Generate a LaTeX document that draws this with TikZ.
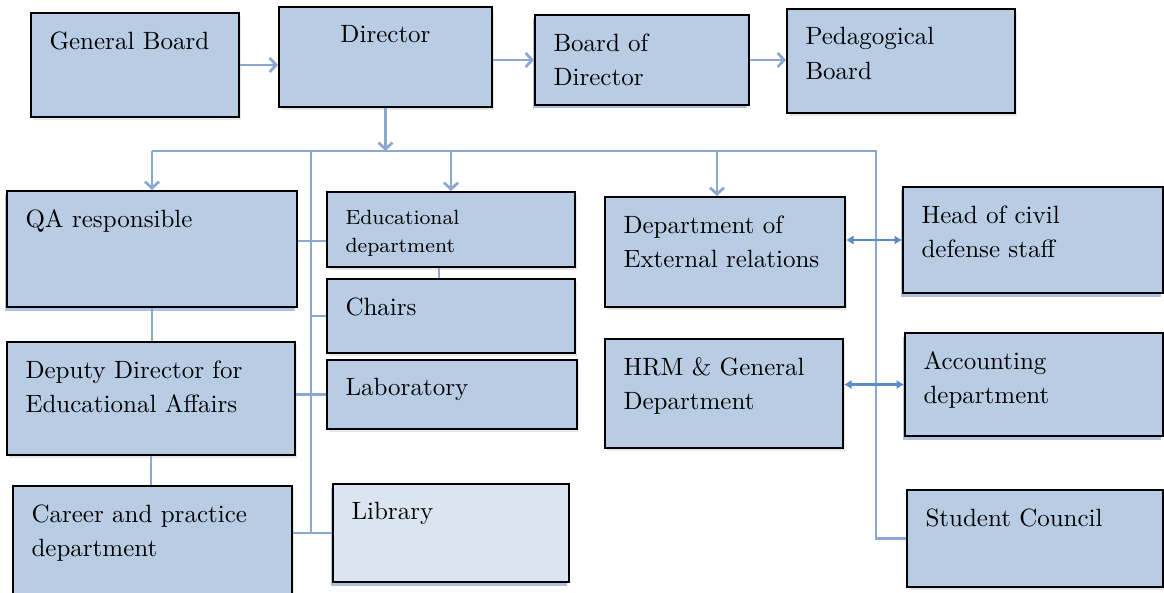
\documentclass[tikz,border=0pt]{standalone}
\usepackage{tikz}
\usetikzlibrary{positioning,fit,shadows,arrows.meta}

\definecolor{boxblue}{RGB}{184,204,228}
\definecolor{libblue}{RGB}{219,229,241}
\definecolor{linkblue}{RGB}{141,168,207}
\definecolor{dblblue}{RGB}{92,139,204}
\definecolor{shadeblue}{RGB}{118,152,204}

\begin{document}
\begin{tikzpicture}[x=0.4pt,y=-0.4pt,
   box/.style={draw=black,line width=0.8pt,fill=boxblue,inner sep=0pt,drop shadow={#1}},
   box/.default={shadow xshift=0.8pt,shadow yshift=-1.2pt,opacity=0.18},
   bluebox/.style={box={shadow xshift=-1pt,shadow yshift=-1.4pt,fill=shadeblue,opacity=0.6}},
   lbl/.style={inner sep=0pt,align=left,yshift=-7.6pt,font=\fontsize{10}{13.8}\selectfont},
   txt/.style={lbl,anchor=north west,xshift=7.6pt},
   link/.style={draw=linkblue,line width=1.1pt},
   arr/.style={link,-{Straight Barb[length=2.6pt,width=5.6pt]}},
   dbl/.style={draw=dblblue,line width=1pt,{Latex[length=3pt,width=3.8pt]}-{Latex[length=3pt,width=3.8pt]}}]
   \useasboundingbox (0,0) rectangle (1164,592);
   \clip (0,0) rectangle (1164,592);

   \node[box,fit={(31,13) (239,117)},label={[txt,name=gbt]north west:General Board}] (gb) {};
   \node[box,fit={(279,7) (492,107)},label={[lbl,anchor=north,name=dirt]north:Director}] (dir) {};
   \node[bluebox,fit={(535,15) (749,105)},label={[txt,name=bodt]north west:Board of\\Director}] (bod) {};
   \node[box,fit={(787,9) (1015,113)},label={[txt,name=pedt]north west:Pedagogical\\Board}] (ped) {};

   \node[bluebox,fit={(7,191) (297,307)},label={[txt,name=qat]north west:QA responsible}] (qa) {};
   \node[box,fit={(7,342) (295,455)},label={[txt,name=dept]north west:Deputy Director for\\Educational Affairs}] (dep) {};
   \node[box,fit={(13,486) (292,600)},label={[txt,name=cart]north west:Career and practice\\department}] (car) {};

   \node[box,fit={(327,192) (575,267)},label={[txt,font=\fontsize{8.2}{11.2}\selectfont,name=edut]north west:Educational\\department}] (edu) {};
   \node[box,fit={(327,279) (575,353)},label={[txt,name=cht]north west:Chairs}] (ch) {};
   \node[box,fit={(327,360) (577,429)},label={[txt,name=labt]north west:Laboratory}] (lab) {};
   \node[bluebox,fill=libblue,fit={(333,484) (569,582)},label={[txt,name=libt]north west:Library}] (lib) {};

   \node[box,fit={(605,197) (845,307)},label={[txt,name=extt]north west:Department of\\External relations}] (ext) {};
   \node[box,fit={(605,339) (843,448)},label={[txt,name=hrmt]north west:HRM \& General\\Department}] (hrm) {};
   \node[bluebox,fit={(903,187) (1163,293)},label={[txt,name=hdt]north west:Head of civil\\defense staff}] (hd) {};
   \node[bluebox,fit={(905,333) (1163,436)},label={[txt,name=acct]north west:Accounting\\department}] (acc) {};
   \node[box,fit={(907,490) (1163,587)},label={[txt,name=sct]north west:Student Council}] (sc) {};

   \coordinate (busR) at (876,151);
   \coordinate (trk) at (311,151);
   \coordinate (extin) at ([xshift=-3.2pt]ext.north);
   \coordinate (qaout) at ([yshift=3.2pt]qa.east);
   \coordinate (eduout) at ([xshift=-4.8pt]edu.south);

   \draw[arr] (gb.east) -- (gb.east -| dir.west);
   \draw[arr] (dir.east |- bod.west) -- (bod.west);
   \draw[arr] (bod.east) -- (bod.east -| ped.west);
   \draw[arr] (dir.south) -- (dir.south |- busR);

   \draw[link] (sc.west) -| (busR) -- (busR -| qa.north);
   \draw[arr] (busR -| qa.north) -- (qa.north);
   \draw[arr] (busR -| edu.north) -- (edu.north);
   \draw[arr] (extin |- busR) -- (extin);

   \draw[link] (trk) -- (trk |- lib.west);
   \draw[link] (qaout) -- (qaout -| edu.west);
   \draw[link] (trk |- ch.west) -- (ch.west);
   \draw[link] (dep.east |- lab.west) -- (lab.west);
   \draw[link] (car.east |- lib.west) -- (lib.west);
   \draw[link] (eduout) -- (eduout |- ch.north);
   \draw[link] (qa.south) -- (qa.south |- dep.north);
   \draw[link] (dep.south) -- (dep.south |- car.north);

   \draw[dbl] (ext.east |- hd.west) -- (hd.west);
   \draw[dbl] (hrm.east |- acc.west) -- (acc.west);
\end{tikzpicture}
\end{document}
